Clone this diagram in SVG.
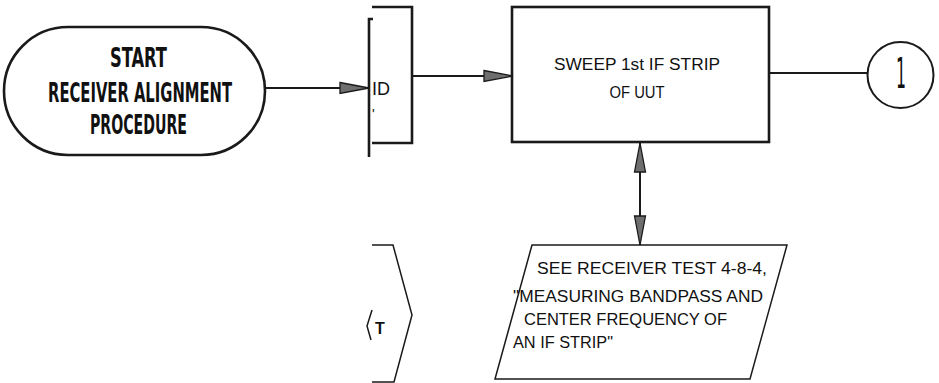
<svg xmlns="http://www.w3.org/2000/svg" width="939" height="383" viewBox="0 0 939 383">
<style>
.thick{fill:none;stroke:#1a1a1a;stroke-width:2.6}
.thin{fill:none;stroke:#1a1a1a;stroke-width:1.5}
.conn{fill:none;stroke:#1a1a1a;stroke-width:2}
.bold{font-family:"DejaVu Sans Condensed","Liberation Sans Narrow","Liberation Sans",sans-serif;font-weight:bold;font-size:27px;fill:#111}
.lbl{font-family:"Liberation Sans",Arial,sans-serif;fill:#111}
</style>
<defs>
<marker id="ah" markerUnits="userSpaceOnUse" markerWidth="32" markerHeight="14" refX="30" refY="7" orient="auto-start-reverse">
<path d="M1,1.5 L30,7 L1,12.5 Z" fill="#6e6e6e" stroke="#1a1a1a" stroke-width="1.3"/>
</marker>
</defs>
<g id="connectors">
<line class="conn" x1="265" y1="88" x2="369" y2="88" marker-end="url(#ah)"/>
<line class="conn" x1="412" y1="76" x2="513" y2="76" marker-end="url(#ah)"/>
<line class="conn" x1="769" y1="73" x2="867" y2="73"/>
<line class="conn" x1="640" y1="143" x2="640" y2="245" marker-start="url(#ah)" marker-end="url(#ah)"/>
</g>
<g id="start">
<rect class="thick" x="4" y="27" width="261" height="128" rx="64" ry="64"/>
<text class="bold" x="138.5" y="67" text-anchor="middle" textLength="57" lengthAdjust="spacingAndGlyphs">START</text>
<text class="bold" x="140" y="102" text-anchor="middle" textLength="184" lengthAdjust="spacingAndGlyphs">RECEIVER ALIGNMENT</text>
<text class="bold" x="138.5" y="134" text-anchor="middle" textLength="97" lengthAdjust="spacingAndGlyphs">PROCEDURE</text>
</g>
<g id="bracket">
<polyline class="thick" points="372,7 412,7 412,143 372,143"/>
<polyline class="thick" points="373,19 369,19 369,157"/>
<text class="lbl" x="372" y="95" style="font-size:18px">ID</text>
<text class="lbl" x="372" y="119" style="font-size:14px">'</text>
</g>
<g id="sweep">
<rect class="thick" x="512" y="7" width="257" height="135"/>
<text class="lbl" x="637" y="70" style="font-size:16px" text-anchor="middle" textLength="166" lengthAdjust="spacingAndGlyphs">SWEEP 1st IF STRIP</text>
<text class="lbl" x="637" y="98" style="font-size:16px" text-anchor="middle" textLength="55" lengthAdjust="spacingAndGlyphs">OF UUT</text>
</g>
<g id="conn1">
<circle cx="900.5" cy="75" r="33" fill="none" stroke="#1a1a1a" stroke-width="2"/>
<text x="901" y="88" text-anchor="middle" style="font-family:'DejaVu Sans Condensed','Liberation Sans Narrow','Liberation Sans',sans-serif;font-size:42px;fill:#111" textLength="10" lengthAdjust="spacingAndGlyphs">1</text>
</g>
<g id="seetest">
<polygon class="thin" points="532,245 787,245 750,379 495,379"/>
<text class="lbl" x="537" y="274" style="font-size:16px" textLength="230" lengthAdjust="spacingAndGlyphs">SEE RECEIVER TEST 4-8-4,</text>
<text class="lbl" x="513" y="302" style="font-size:16px" textLength="250" lengthAdjust="spacingAndGlyphs">"MEASURING BANDPASS AND</text>
<text class="lbl" x="524" y="325" style="font-size:16px" textLength="203" lengthAdjust="spacingAndGlyphs">CENTER FREQUENCY OF</text>
<text class="lbl" x="513" y="348" style="font-size:16px" textLength="100" lengthAdjust="spacingAndGlyphs">AN IF STRIP"</text>
</g>
<g id="partial">
<polyline class="thin" points="372,245 393,245 412,315 394,382 372,382"/>
<polyline class="thin" points="372,310 367,326 371,340"/>
<text class="lbl" x="375" y="334" style="font-size:16px;font-weight:bold">T</text>
</g>
</svg>
